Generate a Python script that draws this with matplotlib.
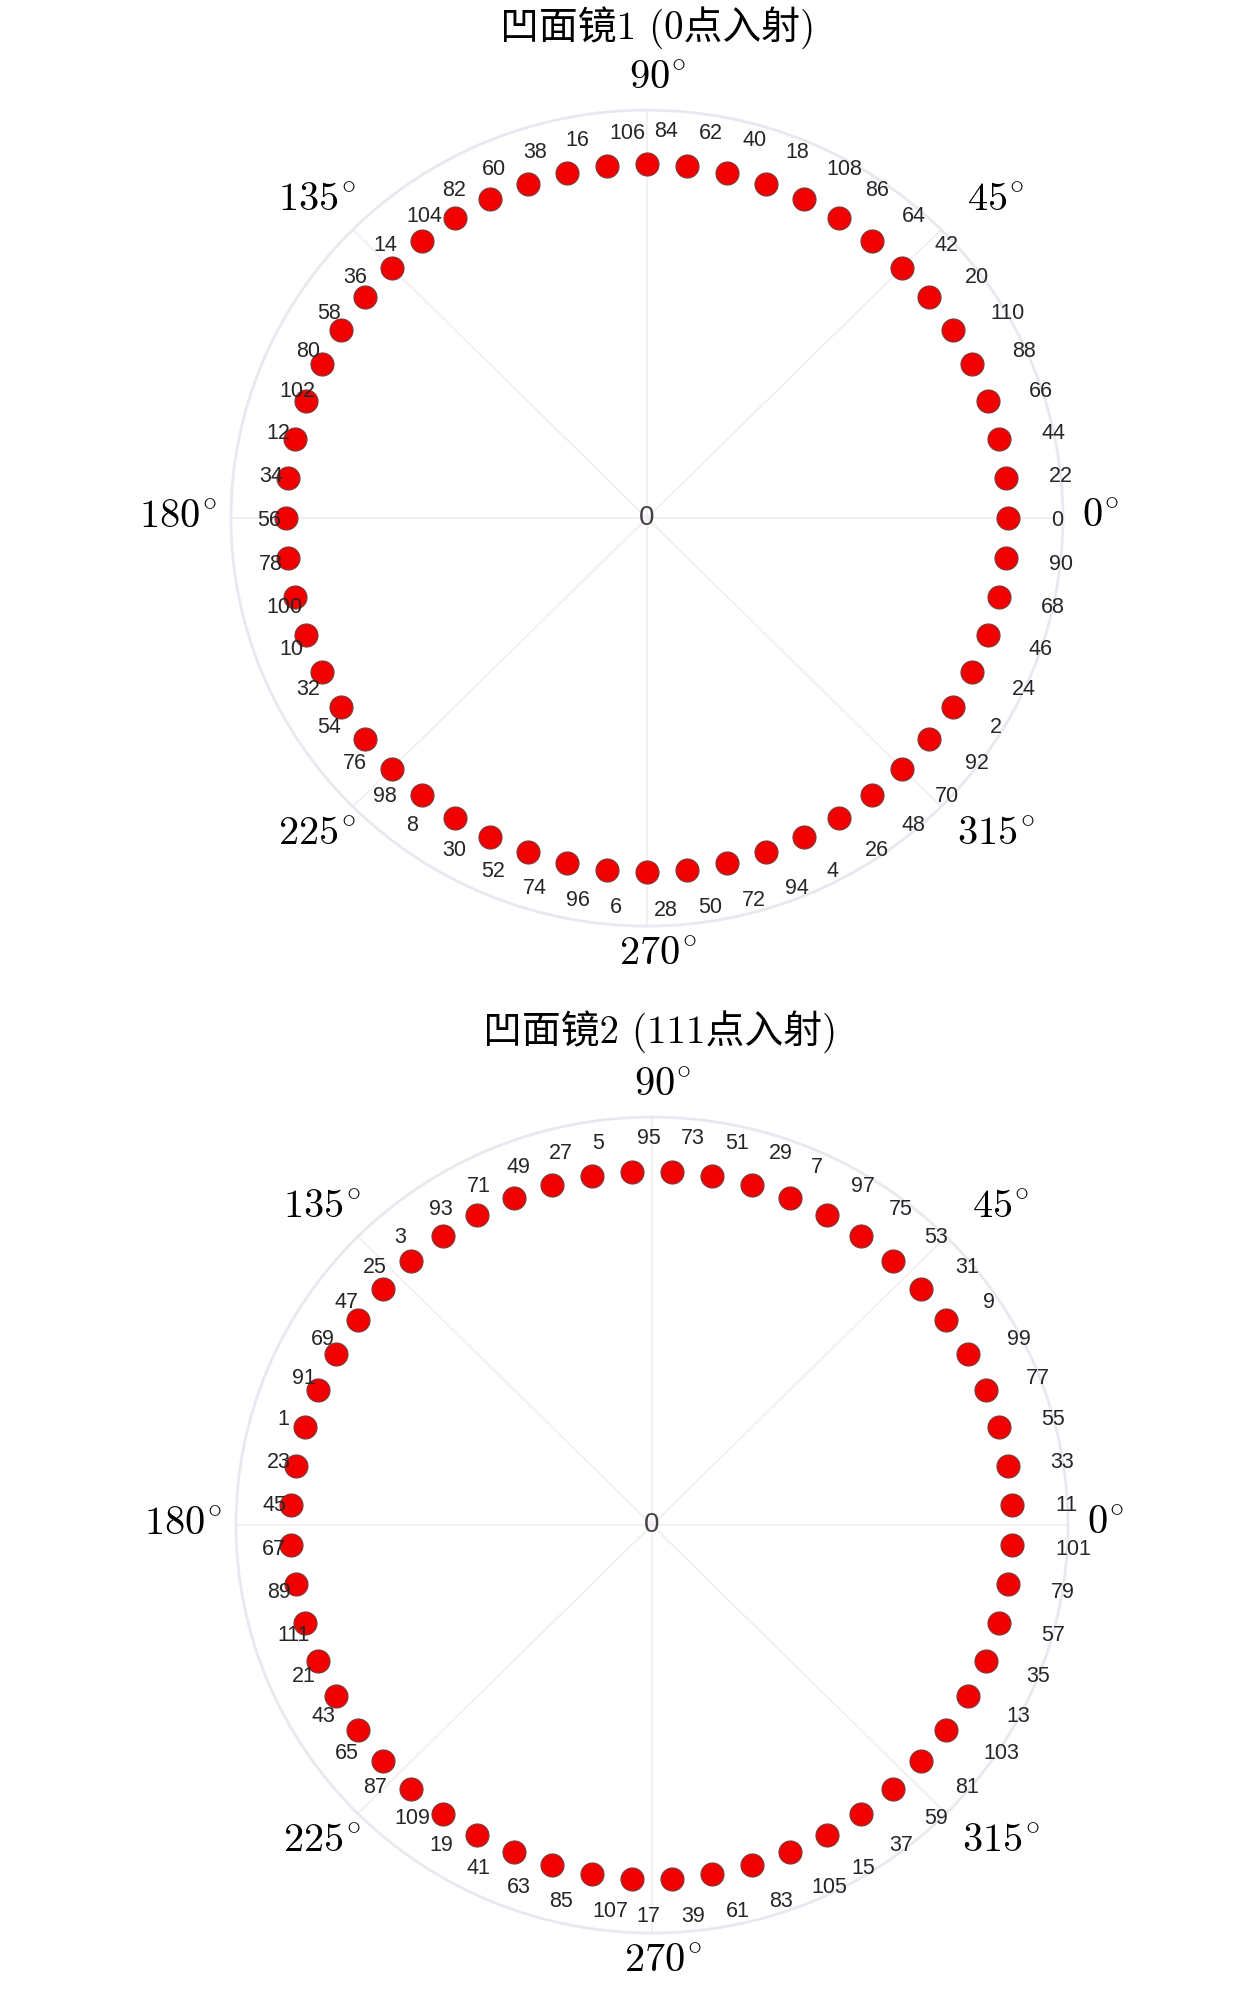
import numpy as np
import matplotlib.pyplot as plt

plt.rcParams['mathtext.fontset'] = 'cm'

# spot numbers around each mirror, counter-clockwise
# mirror 1 starts at 0 deg, mirror 2 starts half a step above 0 deg
mirror1_labels = [0, 22, 44, 66, 88, 110, 20, 42, 64, 86, 108, 18, 40, 62, 84,
                  106, 16, 38, 60, 82, 104, 14, 36, 58, 80, 102, 12, 34, 56, 78,
                  100, 10, 32, 54, 76, 98, 8, 30, 52, 74, 96, 6, 28, 50, 72, 94,
                  4, 26, 48, 70, 92, 2, 24, 46, 68, 90]
mirror2_labels = [11, 33, 55, 77, 99, 9, 31, 53, 75, 97, 7, 29, 51, 73, 95, 5,
                  27, 49, 71, 93, 3, 25, 47, 69, 91, 1, 23, 45, 67, 89, 111, 21,
                  43, 65, 87, 109, 19, 41, 63, 85, 107, 17, 39, 61, 83, 105, 15,
                  37, 59, 81, 103, 13, 35, 57, 79, 101]
start_step = [0.0, 0.5]
titles = ['凹面镜1 (0点入射)', '凹面镜2 (111点入射)']
angle_ticks = [0, 45, 90, 135, 180, 225, 270, 315]
spot_r = 0.868
label_r = 0.955

# layout (pixels)
boxes = [[0.1833, 0.5351, 0.6603, 0.4096], [0.1873, 0.0296, 0.6603, 0.4096]]
title_xy = [(658, 28), (660, 1032)]
tick_offsets = {0: (38, 2), 45: (55, 30), 90: (11, 32), 135: (-36, 30),
                180: (-53, 1), 225: (-36, -27), 270: (11, -28), 315: (55, -27)}

fig = plt.figure(figsize=(12.6, 19.92), dpi=100)

for i, labels in enumerate([mirror1_labels, mirror2_labels]):
    ax = fig.add_axes(boxes[i], projection='polar')
    ax.set_aspect('auto')
    n = len(labels)
    theta = (np.arange(n) + start_step[i]) * 2 * np.pi / n

    ax.set_ylim(0, 1)
    ax.set_yticks([])
    ax.set_xticks(np.deg2rad(angle_ticks))
    ax.set_xticklabels([])
    ax.grid(True, color='#f5edf4', lw=1.3)
    ax.spines['polar'].set_color('#e8e8f0')
    ax.spines['polar'].set_linewidth(2)

    ax.scatter(theta, [spot_r] * n, s=275, c='#f20000', edgecolors='#7a3a3a',
               linewidths=0.8, zorder=3)
    for t, lab in zip(theta, labels):
        ax.annotate(str(lab), (t, label_r), xytext=(7, -2.5),
                    textcoords='offset pixels', ha='left', va='center',
                    fontsize=15.5, color='#262626', family='Liberation Sans',
                    zorder=4, annotation_clip=False)

    ax.text(0, 0, '0', ha='center', va='center', fontsize=20,
            color='#444444', family='Liberation Sans', zorder=4)

    for a in angle_ticks:
        ax.annotate(r'$%d^{\!\circ}$' % a, (np.deg2rad(a), 1.0),
                    xytext=tick_offsets[a], textcoords='offset pixels',
                    ha='center', va='center', fontsize=29, color='black',
                    annotation_clip=False)

    fig.text(title_xy[i][0] / 1260, 1 - title_xy[i][1] / 1992, titles[i],
             ha='center', va='center', fontsize=28,
             family=['cmr10', 'Noto Sans CJK SC'])

plt.savefig('out.png', dpi=100)
